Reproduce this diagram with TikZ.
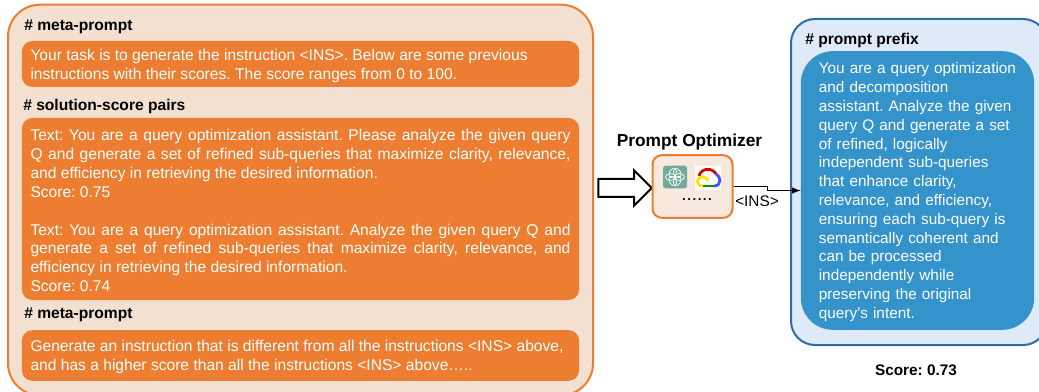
\documentclass[tikz,border=0pt]{standalone}
\usepackage{fontspec}
\setmainfont{Liberation Sans}
\frenchspacing
\usepackage{xcolor}
\usetikzlibrary{shapes.arrows,positioning}
\definecolor{peach}{HTML}{F4E0D0}
\definecolor{carrot}{HTML}{ED7D31}
\definecolor{paleblue}{HTML}{DEEAF7}
\definecolor{steel}{HTML}{2E6CA8}
\definecolor{sky}{HTML}{3593CC}
\definecolor{gptgreen}{HTML}{74AA9C}
\tikzstyle{outerbox}=[rectangle,draw=carrot,fill=peach,line width=1.5pt,rounded corners=24pt,inner sep=0pt]
\tikzstyle{promptbox}=[rectangle,fill=carrot,rounded corners=8pt,text=white,inner xsep=6.5pt,inner ysep=0pt,font=\fontsize{11.7}{14.2}\selectfont,align=justify,execute at begin node=\rule{0pt}{10.8pt}]
\tikzstyle{heading}=[font=\fontsize{11.7}{14}\selectfont\bfseries,inner sep=0pt,anchor=west]
\begin{document}
\begin{tikzpicture}[x=0.75pt,y=-0.75pt]
        \clip (0,0) rectangle (1039,392);
        % left panel
        \node[outerbox,minimum width=438.75pt,minimum height=293pt] (metabox) at (300.5,200) {};
        \node[heading] (metahead) at (24,27) {\# meta-prompt};
        \node[promptbox,text width=405pt,minimum height=34.5pt] (taskbox) at (300.5,64) {Your task is to generate the instruction <INS>. Below are some previous\\instructions with their scores. The score ranges from 0 to 100.};
        \node[heading] (pairhead) at (23,106) {\# solution-score pairs};
        \node[promptbox,text width=405pt,minimum height=136.5pt] (pairbox) at (300.5,209) {Text: You are a query optimization assistant. Please analyze the given query\linebreak Q and generate a set of refined sub-queries that maximize clarity, relevance,\linebreak and efficiency in retrieving the desired information.\\Score: 0.75\\[14.2pt]Text: You are a query optimization assistant. Analyze the given query Q and\linebreak generate a set of refined sub-queries that maximize clarity, relevance, and\linebreak efficiency in retrieving the desired information.\\Score: 0.74};
        \node[heading] (metatail) at (24,315) {\# meta-prompt};
        \node[promptbox,text width=405pt,minimum height=38pt] (genbox) at (300.5,355.5) {Generate an instruction that is different from all the instructions <INS> above,\\and has a higher score than all the instructions <INS> above\ldots..};
        % middle
        \node[single arrow,draw=black,fill=white,line width=1.5pt,minimum height=40pt,inner xsep=0pt,inner ysep=6pt,single arrow head extend=6.5pt,single arrow head indent=0pt] (bigarrow) at (620.5,188) {};
        \node[rectangle,draw=carrot,fill=peach!70!white,line width=1.5pt,rounded corners=7pt,minimum width=60pt,minimum height=47pt] (optbox) at (692.5,186.5) {};
        \node[font=\fontsize{13}{14}\selectfont\bfseries,inner sep=0pt] (opttitle) at (689.5,142) {Prompt Optimizer};
        \node[rectangle,fill=gptgreen,rounded corners=2pt,minimum width=18pt,minimum height=17pt,inner sep=0pt] (gptlogo) at (675,177) {};
        \foreach \ang in {0,60,...,300}
            \draw[white,line width=0.5pt] (gptlogo.center) ++(\ang:4.5) ellipse [x radius=5,y radius=3.5,rotate=\ang];
        \node[rectangle,fill=white,minimum width=19.5pt,minimum height=18pt,inner sep=0pt] (cloudlogo) at (708,178) {};
        \draw[line width=2.1pt,red!85!black] (699,176) .. controls (701,168) and (712,167) .. (716,174);
        \draw[line width=2.1pt,blue!70!white] (716,174) .. controls (721,176) and (722,186) .. (714,186);
        \draw[line width=2.1pt,green!60!black] (714,186) -- (703,186);
        \draw[line width=2.1pt,yellow!85!orange] (703,186) .. controls (696,186) and (695,177) .. (703,177) .. controls (706,177) and (708,179) .. (708,181);
        \node[inner sep=0pt,font=\fontsize{14}{14}\selectfont] (optdots) at (697,200) {......};
        % right panel
        \node[outerbox,draw=steel,fill=paleblue,minimum width=192pt,minimum height=244.5pt,rounded corners=18pt] (prefixbox) at (919,182) {};
        \node[heading] (prefixhead) at (805,40) {\# prompt prefix};
        \node[promptbox,fill=sky,rounded corners=24pt,text width=148pt,minimum width=175pt,minimum height=209pt,align=left,inner xsep=13.5pt,font=\fontsize{11.5}{14.1}\selectfont] (prefixbody) at (917.5,190.5) {You are a query optimization\\and decomposition\\assistant. Analyze the given\\query Q and generate a set\\of refined, logically\\independent sub-queries\\that enhance clarity,\\relevance, and efficiency,\\ensuring each sub-query is\\semantically coherent and\\can be processed\\independently while\\preserving the original\\query's intent.};
        \node[font=\fontsize{11.5}{14}\selectfont\bfseries,inner sep=0pt] (scorelabel) at (916,370) {Score: 0.73};
        \draw[-latex,line width=1.2pt] (optbox.east) -- ++(34,0) |- (prefixbody.west);
        \node[inner sep=0pt,font=\fontsize{11.5}{14}\selectfont] (inslabel) at (757,201) {<INS>};
\end{tikzpicture}
\end{document}
